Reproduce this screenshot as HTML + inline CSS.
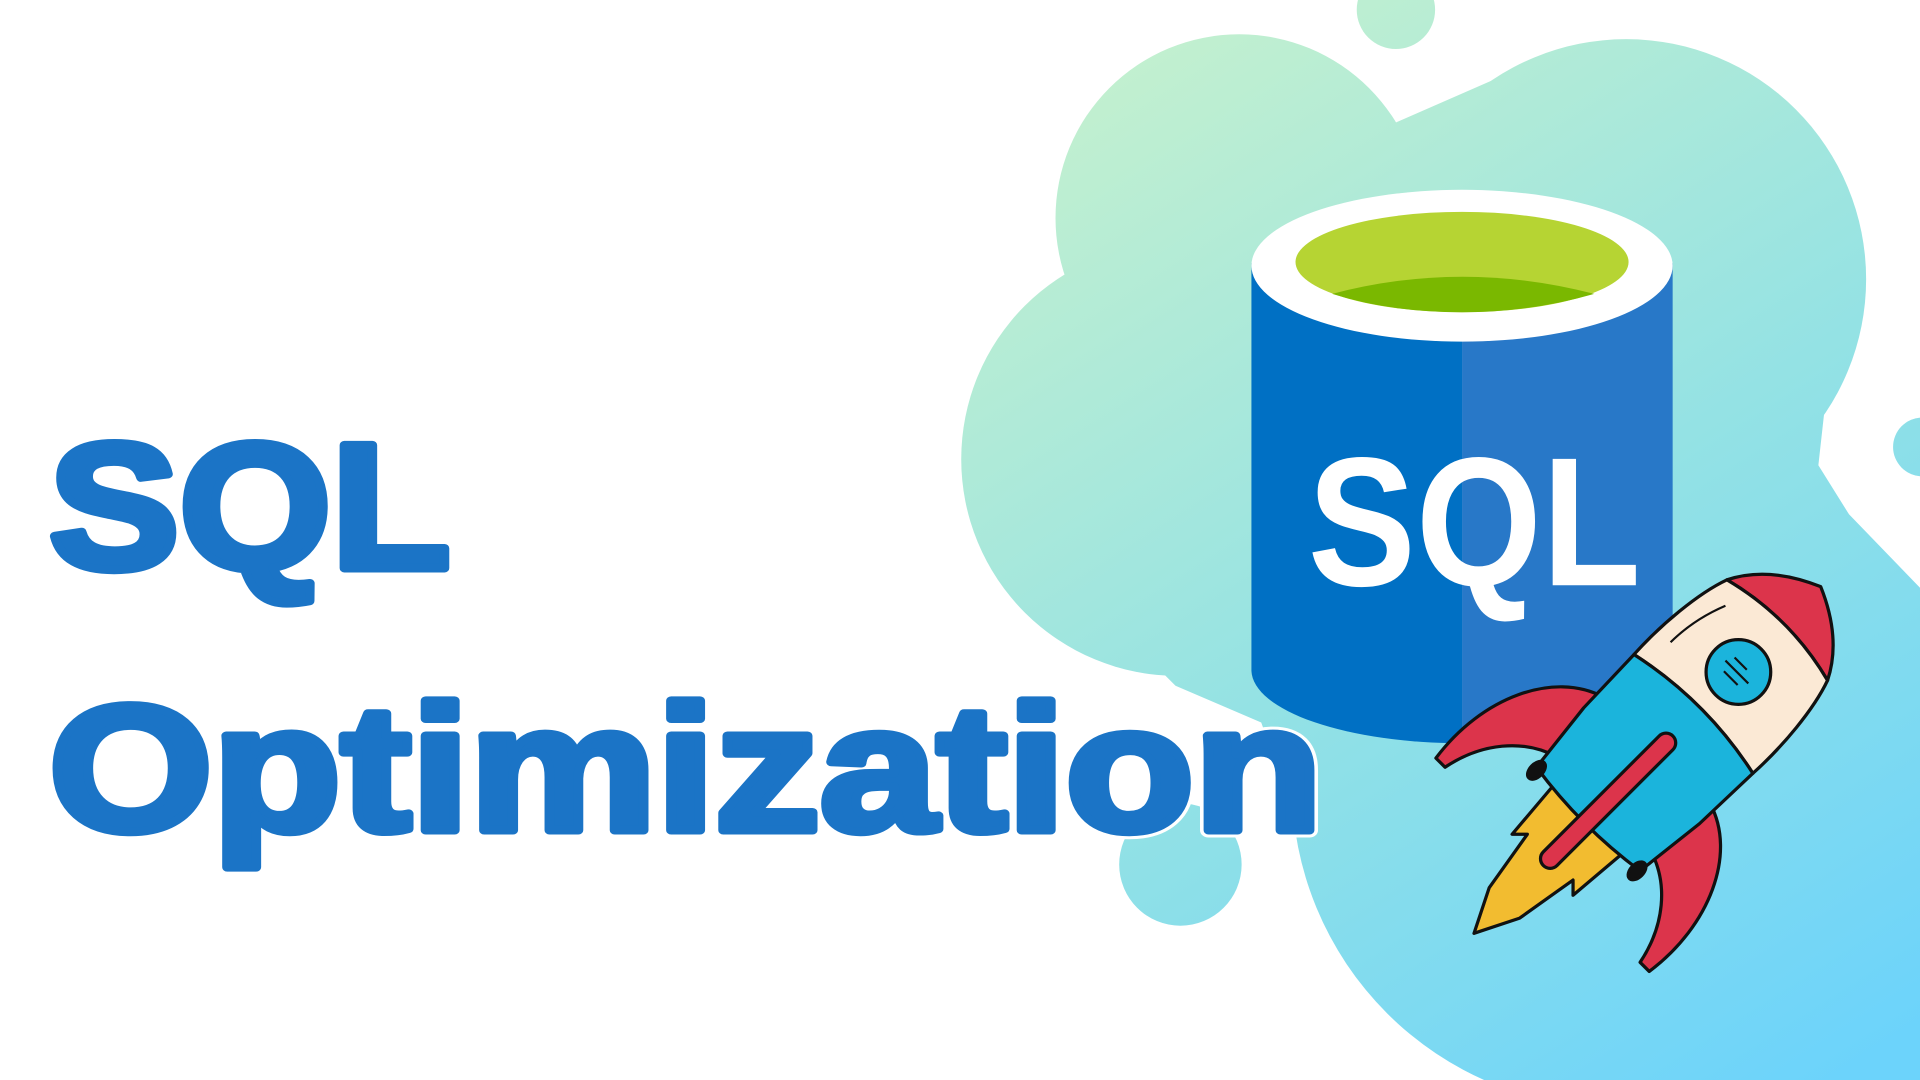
<!DOCTYPE html>
<html><head><meta charset="utf-8"><style>html,body{margin:0;padding:0;background:#fff;overflow:hidden}svg{display:block}</style></head>
<body>
<svg width="1920" height="1080" viewBox="0 0 1568 882" xmlns="http://www.w3.org/2000/svg">
<defs>
<linearGradient id="bg" gradientUnits="userSpaceOnUse" x1="950" y1="20" x2="1500" y2="882">
<stop offset="0" stop-color="#c3f0cf"/><stop offset="0.5" stop-color="#94e2e4"/><stop offset="1" stop-color="#6cd3fb"/>
</linearGradient>
</defs>
<g fill="url(#bg)">
<circle cx="1140" cy="8" r="32"/>
<circle cx="1012" cy="178" r="150"/>
<circle cx="1328" cy="228" r="196"/>
<circle cx="962" cy="375" r="177"/>
<circle cx="1320" cy="640" r="265"/>
<circle cx="964" cy="706" r="50"/>
<circle cx="1570" cy="365" r="24"/>
<path d="M880,215 L1000,100 L1140,100 L1220,65 L1330,100 L1490,335 L1485,380 L1510,420 L1568,480 L1568,882 L1250,882 L1070,700 L1030,590 L960,560 L900,500 Z"/>
</g>
<path d="M1022,215 L1022,548 A172,60 0 0 0 1194,607 L1194,215 Z" fill="#0070c4"/>
<path d="M1194,215 L1194,607 A172,60 0 0 0 1366,548 L1366,215 Z" fill="#2878c8"/>
<ellipse cx="1194" cy="217" rx="172" ry="62" fill="#fff"/>
<ellipse cx="1194" cy="214" rx="136" ry="41" fill="#b6d433"/>
<path d="M1088,240 Q1194,212 1302,240 Q1250,255 1194,255 Q1135,255 1088,240Z" fill="#7ab800"/>
<text x="1068" y="478" font-family="Liberation Sans, sans-serif" font-weight="700" font-size="150" fill="#fff" textLength="272" lengthAdjust="spacingAndGlyphs">SQL</text>
<g font-family="Liberation Sans, DejaVu Sans, sans-serif" font-weight="900" fill="#fff" stroke="#fff" stroke-width="12" stroke-linejoin="round">
<text x="40" y="464" font-size="146" textLength="328" lengthAdjust="spacingAndGlyphs">SQL</text>
<text x="40" y="678" font-size="146" textLength="1040" lengthAdjust="spacingAndGlyphs">Optimization</text>
</g>
<g font-family="Liberation Sans, DejaVu Sans, sans-serif" font-weight="900" fill="#1b74c6" stroke="#1b74c6" stroke-width="7" stroke-linejoin="round">
<text x="40" y="464" font-size="146" textLength="328" lengthAdjust="spacingAndGlyphs">SQL</text>
<text x="40" y="678" font-size="146" textLength="1040" lengthAdjust="spacingAndGlyphs">Optimization</text>
</g>
<g transform="translate(1378,588) scale(0.88) rotate(45)" stroke="#111" stroke-width="3" stroke-linejoin="round">
<path d="M-70,40 C-120,55 -150,120 -140,190 L-128,190 C-120,150 -95,120 -62,110 Z" fill="#dc344b"/>
<path d="M70,40 C120,55 150,120 140,190 L128,190 C120,150 95,120 62,110 Z" fill="#dc344b"/>
<path d="M-45,130 L-40,190 L-30,180 L-20,240 L0,280 L20,240 L30,180 L40,190 L45,130 Z" fill="#f2bc30"/>
<path d="M0,-175 C35,-160 55,-140 66,-118 Q0,-135 -66,-118 C-55,-140 -35,-160 0,-175Z" fill="#dc344b"/>
<path d="M-66,-118 Q0,-135 66,-118 C76,-90 80,-45 78,-8 Q0,-25 -78,-8 C-80,-45 -76,-90 -66,-118Z" fill="#fbe9d5"/>
<path d="M-78,-8 Q0,-25 78,-8 L76,60 L68,130 Q0,140 -68,130 L-76,60Z" fill="#1bb4dc"/>
<ellipse cx="-66" cy="132" rx="6" ry="10" fill="#111"/>
<ellipse cx="66" cy="132" rx="6" ry="10" fill="#111"/>
<circle cx="2" cy="-65" r="30" fill="#1bb4dc"/>
<path d="M-10,-72 h16 M-14,-64 h30 M-8,-56 h18" stroke-width="2"/>
<rect x="-8" y="20" width="18" height="170" rx="9" fill="#dc344b"/>
<path d="M-50,-100 Q-62,-70 -62,-40" fill="none" stroke-width="2"/>
</g>
</svg>
</body></html>
